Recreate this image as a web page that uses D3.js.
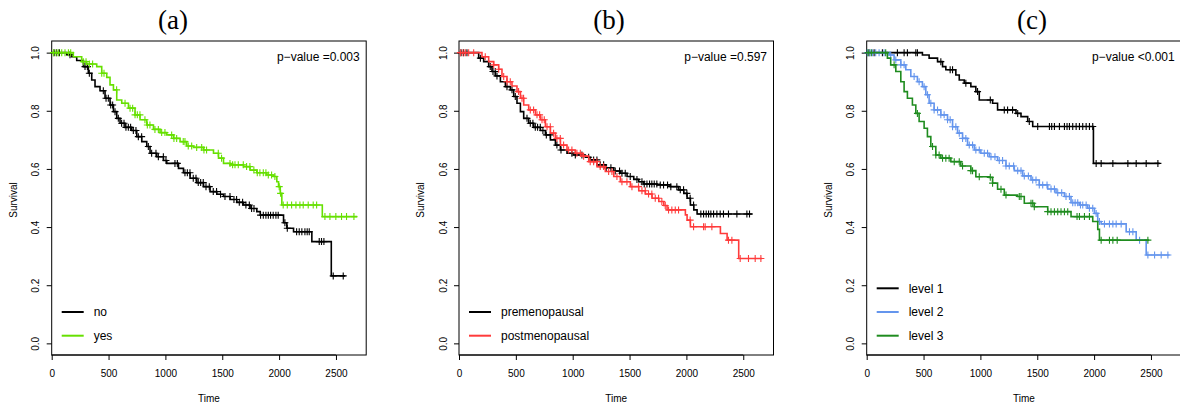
<!DOCTYPE html>
<meta charset="utf-8">
<style>

body { margin: 0; background: #fff; }

svg { font-family: "Liberation Sans", Arial, sans-serif; }

.box {
  fill: none;
  stroke: #000;
  stroke-width: 1;
}

.axis path { display: none; }
.axis line { stroke: #000; }
.axis text { font-size: 10px; fill: #000; }

.km {
  fill: none;
  stroke-width: 1.6;
}

.title { font-family: "Liberation Serif", "DejaVu Serif", serif; font-size: 27px; }

</style>
<body>

<script src="https://cdn.jsdelivr.net/npm/d3@7"></script>

<script>

var timeTicks = [0, 500, 1000, 1500, 2000, 2500];
var survTicks = [0, 0.2, 0.4, 0.6, 0.8, 1.0];
var panelTitles = ["(a)", "(b)", "(c)"];
var pValues = ["p\u2212value =0.003", "p\u2212value =0.597", "p\u2212value <0.001"];

// (a) no / yes  -- steps are [time, survival after that time], last row is end of follow-up
var noSteps = [[0,1],[132,0.993],[176,0.986],[220,0.973],[279,0.952],[322,0.929],[352,0.906],[381,0.883],[425,0.869],[469,0.843],[513,0.82],[543,0.797],[572,0.774],[601,0.757],[645,0.743],[704,0.732],[748,0.711],[792,0.694],[836,0.677],[865,0.654],[924,0.642],[983,0.629],[1012,0.619],[1115,0.602],[1159,0.587],[1217,0.568],[1276,0.553],[1335,0.539],[1393,0.522],[1452,0.513],[1511,0.505],[1569,0.495],[1628,0.485],[1687,0.476],[1745,0.464],[1804,0.453],[1834,0.441],[2039,0.415],[2068,0.396],[2127,0.384],[2288,0.35],[2459,0.232],[2582,0.232]];
var noCensor = [21,44,67,161,293,314,331,454,478,498,519,536,557,586,615,636,653,674,694,718,741,762,791,850,879,917,938,982,1005,1084,1105,1172,1193,1216,1245,1269,1289,1310,1333,1357,1386,1421,1450,1485,1524,1568,1603,1626,1650,1679,1708,1738,1758,1779,1837,1861,1884,1905,1925,1948,1972,1992,2051,2072,2154,2177,2200,2227,2247,2265,2353,2373,2394,2476,2564];
var yesSteps = [[0,1],[190,0.986],[264,0.969],[308,0.961],[396,0.952],[440,0.929],[484,0.915],[513,0.889],[543,0.872],[572,0.837],[616,0.826],[675,0.809],[733,0.786],[777,0.769],[836,0.751],[895,0.736],[953,0.725],[1012,0.717],[1071,0.705],[1129,0.694],[1188,0.679],[1247,0.674],[1335,0.665],[1423,0.654],[1467,0.637],[1511,0.619],[1569,0.614],[1687,0.608],[1745,0.596],[1804,0.587],[1892,0.579],[1951,0.574],[1980,0.556],[1995,0.539],[2010,0.516],[2024,0.476],[2380,0.436],[2687,0.436]];
var yesCensor = [15,38,59,88,117,147,167,278,302,331,360,440,460,571,645,689,712,733,753,776,820,841,864,908,938,967,996,1055,1075,1099,1157,1172,1201,1231,1275,1319,1339,1362,1465,1494,1568,1591,1612,1641,1685,1714,1743,1778,1808,1831,1861,1884,1905,1934,1963,2001,2013,2036,2072,2110,2148,2183,2212,2256,2300,2330,2403,2447,2499,2549,2593,2658];

// (b) premenopausal / postmenopausal
var preSteps = [[0,1],[173,0.981],[217,0.969],[261,0.952],[290,0.935],[320,0.92],[364,0.9],[408,0.883],[452,0.872],[481,0.849],[510,0.826],[540,0.797],[569,0.774],[613,0.757],[657,0.743],[716,0.732],[760,0.717],[804,0.7],[848,0.682],[892,0.665],[950,0.654],[1009,0.648],[1111,0.64],[1155,0.631],[1214,0.614],[1287,0.604],[1361,0.593],[1419,0.585],[1478,0.574],[1537,0.564],[1581,0.556],[1625,0.548],[1742,0.545],[1859,0.539],[1932,0.528],[1977,0.516],[2006,0.499],[2035,0.476],[2065,0.459],[2094,0.445],[2578,0.445]];
var preCensor = [18,41,70,188,275,299,319,334,422,466,495,598,627,650,671,691,715,738,768,803,861,897,993,1023,1081,1140,1184,1213,1242,1272,1295,1336,1374,1412,1433,1462,1506,1565,1609,1629,1653,1676,1696,1717,1740,1770,1799,1834,1863,1916,1946,1975,2004,2033,2063,2127,2151,2174,2195,2215,2239,2268,2297,2326,2370,2444,2532,2555];
var postSteps = [[0,1],[202,0.986],[261,0.969],[305,0.958],[349,0.943],[378,0.918],[422,0.9],[466,0.885],[510,0.866],[540,0.843],[569,0.82],[613,0.803],[672,0.786],[716,0.769],[760,0.745],[804,0.723],[848,0.705],[892,0.682],[950,0.665],[1023,0.654],[1082,0.644],[1141,0.625],[1214,0.608],[1287,0.591],[1361,0.574],[1419,0.556],[1507,0.539],[1581,0.525],[1639,0.514],[1698,0.499],[1757,0.488],[1801,0.474],[1830,0.459],[1991,0.442],[2006,0.424],[2035,0.401],[2299,0.378],[2358,0.355],[2460,0.292],[2666,0.292]];
var postCensor = [12,35,56,85,129,231,305,349,393,422,451,524,554,568,627,656,686,709,730,750,774,803,832,861,891,920,964,993,1037,1067,1096,1154,1184,1213,1242,1272,1316,1345,1389,1433,1477,1521,1579,1609,1638,1667,1696,1726,1755,1784,1814,1843,1872,1902,1931,2033,2063,2151,2165,2224,2370,2400,2473,2546,2605,2655];

// (c) level 1 / 2 / 3
var lev1Steps = [[0,1],[490,0.992],[549,0.981],[623,0.969],[667,0.952],[696,0.941],[784,0.923],[814,0.906],[858,0.895],[916,0.883],[960,0.866],[990,0.837],[1107,0.826],[1151,0.803],[1313,0.791],[1357,0.78],[1416,0.763],[1460,0.746],[1994,0.619],[2576,0.619]];
var lev1Censor = [21,65,138,270,329,358,432,446,652,734,755,872,975,1087,1210,1239,1283,1328,1430,1504,1607,1627,1651,1695,1739,1762,1783,1812,1842,1871,1900,1930,1959,1988,2018,2062,2165,2297,2370,2458,2561];
var lev2Steps = [[0,1],[197,0.992],[241,0.975],[300,0.958],[344,0.941],[388,0.918],[446,0.9],[490,0.883],[520,0.855],[549,0.826],[593,0.803],[652,0.786],[711,0.769],[755,0.745],[799,0.723],[843,0.705],[887,0.682],[946,0.665],[1004,0.654],[1078,0.642],[1151,0.629],[1225,0.61],[1298,0.594],[1372,0.576],[1445,0.562],[1518,0.545],[1592,0.531],[1665,0.518],[1739,0.505],[1797,0.484],[1871,0.476],[1944,0.465],[2003,0.447],[2032,0.419],[2062,0.411],[2282,0.384],[2370,0.355],[2458,0.304],[2664,0.304]];
var lev2Censor = [6,29,50,79,109,153,211,256,300,329,417,461,505,535,564,593,623,652,681,711,734,755,784,814,843,872,902,931,960,990,1034,1063,1093,1128,1166,1195,1225,1254,1292,1328,1357,1386,1422,1460,1489,1518,1548,1586,1621,1651,1680,1715,1753,1783,1812,1833,1856,1880,1900,1930,1959,1988,2018,2047,2091,2135,2165,2194,2238,2311,2341,2400,2473,2532,2590,2649];
var lev3Steps = [[0,1],[182,0.981],[211,0.958],[256,0.935],[300,0.9],[329,0.866],[358,0.843],[402,0.82],[432,0.791],[461,0.763],[505,0.74],[534,0.711],[564,0.677],[608,0.648],[652,0.637],[740,0.625],[828,0.61],[916,0.594],[960,0.573],[1078,0.571],[1107,0.551],[1151,0.53],[1210,0.51],[1327,0.505],[1386,0.482],[1474,0.47],[1592,0.453],[1797,0.436],[1988,0.419],[2032,0.392],[2047,0.355],[2485,0.355]];
var lev3Censor = [12,41,167,241,446,579,608,637,667,696,725,770,814,843,916,931,990,1087,1107,1181,1225,1342,1357,1445,1460,1474,1592,1621,1651,1680,1709,1739,1768,1850,1871,1915,1959,2062,2135,2165,2203,2473];

var panels = [
  { title: panelTitles[0], p: pValues[0], curves: [
    { name: "no", color: "#000000", steps: noSteps, censor: noCensor },
    { name: "yes", color: "#66e000", steps: yesSteps, censor: yesCensor } ] },
  { title: panelTitles[1], p: pValues[1], curves: [
    { name: "premenopausal", color: "#000000", steps: preSteps, censor: preCensor },
    { name: "postmenopausal", color: "#ff3b3b", steps: postSteps, censor: postCensor } ] },
  { title: panelTitles[2], p: pValues[2], curves: [
    { name: "level 1", color: "#000000", steps: lev1Steps, censor: lev1Censor },
    { name: "level 2", color: "#6495ed", steps: lev2Steps, censor: lev2Censor },
    { name: "level 3", color: "#1f8c1f", steps: lev3Steps, censor: lev3Censor } ] }
];

var plotLeft = [51.7, 459, 866.7],
  titleX = [173, 609, 1032],
  plotTop = 41,
  width = 314.5,
  height = 314;

var x = d3.scaleLinear().domain([0, 2766]).range([0, width]);
var y = d3.scaleLinear().domain([-0.04, 1.04]).range([height, 0]);

var svg = d3.select("body")
  .append("svg")
    .attr("width", 1180)
    .attr("height", 408);

var line = d3.line()
  .curve(d3.curveStepAfter)
  .x(function(d) { return x(d[0]); })
  .y(function(d) { return y(d[1]); });

var bisect = d3.bisector(function(d) { return d[0]; }).right;

function survAt(steps, t) {
  var i = bisect(steps, t) - 1;
  return steps[Math.max(i, 0)][1];
}

panels.forEach(function(p, k) {

  svg.append("text")
    .attr("class", "title")
    .attr("x", titleX[k])
    .attr("y", 29)
    .attr("text-anchor", "middle")
    .text(p.title);

  var g = svg.append("g")
    .attr("transform", "translate(" + plotLeft[k] + "," + plotTop + ")");

  var xAxis = g.append("g")
    .attr("class", "axis")
    .attr("transform", "translate(0," + height + ")")
    .call(d3.axisBottom(x).tickValues(timeTicks).tickSize(5).tickPadding(10)
      .tickFormat(d3.format("d")));
  xAxis.append("line")
    .attr("x1", x(0)).attr("x2", x(2500))
    .attr("stroke", "#000");

  var yAxis = g.append("g")
    .attr("class", "axis")
    .call(d3.axisLeft(y).tickValues(survTicks).tickSize(5).tickFormat(d3.format(".1f")));
  yAxis.selectAll("text")
    .attr("x", null).attr("dy", null)
    .attr("text-anchor", "middle")
    .attr("transform", "translate(-12.4,0) rotate(-90)");

  g.append("rect")
    .attr("class", "box")
    .attr("width", width)
    .attr("height", height);

  g.append("text")
    .attr("x", width / 2)
    .attr("y", height + 46.5)
    .attr("text-anchor", "middle")
    .style("font-size", "10px")
    .text("Time");

  g.append("text")
    .attr("transform", "translate(-35," + (height / 2 + 2) + ") rotate(-90)")
    .attr("text-anchor", "middle")
    .style("font-size", "10px")
    .text("Survival");

  g.append("text")
    .attr("x", width - 6.5)
    .attr("y", 20)
    .attr("text-anchor", "end")
    .style("font-size", "12px")
    .text(p.p);

  p.curves.forEach(function(c) {
    g.append("path")
      .datum(c.steps)
      .attr("class", "km")
      .attr("stroke", c.color)
      .attr("d", line);

    g.selectAll(null)
      .data(c.censor)
      .enter().append("path")
      .attr("stroke", c.color)
      .attr("stroke-width", 1.1)
      .attr("fill", "none")
      .attr("d", function(t) {
        var cx = x(t), cy = y(survAt(c.steps, t));
        return "M" + (cx - 3.5) + "," + cy + "H" + (cx + 3.5) +
          "M" + cx + "," + (cy - 3.5) + "V" + (cy + 3.5);
      });
  });

  var n = p.curves.length;
  var legend = g.selectAll(".legend")
    .data(p.curves)
    .enter().append("g")
    .attr("transform", function(d, i) {
      return "translate(0," + (294.7 - (n - 1 - i) * 23.7) + ")";
    });
  legend.append("line")
    .attr("x1", 10).attr("x2", 32)
    .attr("stroke", function(d) { return d.color; })
    .attr("stroke-width", 2);
  legend.append("text")
    .attr("x", 42)
    .attr("y", 4.3)
    .style("font-size", "12px")
    .text(function(d) { return d.name; });
});

</script>
</body>
